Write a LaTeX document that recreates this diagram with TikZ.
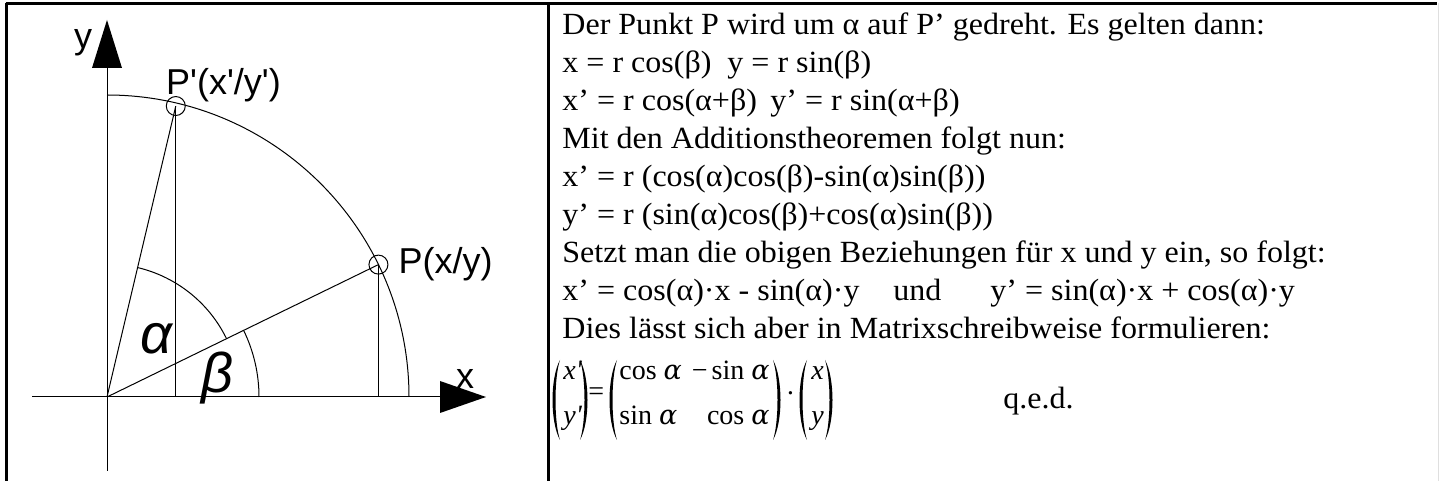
\documentclass[tikz,border=0pt]{standalone}
\usepackage{fontspec}
\setmainfont{Liberation Serif}
\newfontfamily\widefont{Liberation Serif}[FakeStretch=1.04]
\newfontfamily\cad{Liberation Sans}
\newfontfamily\dvs{DejaVu Serif}
\begin{document}
\begin{tikzpicture}[x=0.5pt,y=0.5pt,
  thinline/.style={line width=0.5pt},
  frameline/.style={line width=1.1pt},
  txt/.style={anchor=base west, inner sep=0pt, font=\widefont\fontsize{15.4}{18.5}\selectfont},
  mtx/.style={anchor=base west, inner sep=0pt, font=\fontsize{14}{17}\selectfont},
  mtxr/.style={mtx, anchor=base east},
  lbl/.style={inner sep=0pt, font=\cad\fontsize{18}{20}\selectfont},
  greek/.style={inner sep=0pt, font=\cad\itshape\fontsize{28}{30}\selectfont},
  ptmark/.style={circle, draw, line width=0.5pt, minimum size=9.5pt, inner sep=0pt},
  lpar/.pic={\fill (0,40) .. controls (-10,22) and (-10,-22) .. (0,-40)
                 .. controls (-6,-22) and (-6,22) .. (0,40) -- cycle;},
  rpar/.pic={\fill (0,40) .. controls (10,22) and (10,-22) .. (0,-40)
                 .. controls (6,-22) and (6,22) .. (0,40) -- cycle;}
]
\newcommand{\mal}{{\dvs\itshape\fontsize{13.5}{16}\selectfont α}}
\useasboundingbox (0,0) rectangle (1439,481);
% frame
\draw[frameline] (5.5,477.5) -- (1437,477.5);
\draw[frameline] (6.5,478) -- (6.5,0);
\draw[frameline] (548.5,478) -- (548.5,0);
\draw[gray!25, line width=0.5pt] (1438.5,478) -- (1438.5,0);
% axes
\coordinate (O) at (107,84);
\coordinate (xs) at (32,84);
\coordinate (xb) at (440,84);
\coordinate (xt) at (486,84);
\coordinate (yb) at (107,10);
\coordinate (ya) at (107,413);
\coordinate (yt) at (107,461);
\draw[thinline] (xs) -- (xb);
\fill ([yshift=8]xb) -- (xt) -- ([yshift=-8]xb) -- cycle;
\draw[thinline] (yb) -- (ya);
\fill ([xshift=-7.5]ya) -- (yt) -- ([xshift=7.5]ya) -- cycle;
% big arc
\draw[thinline] ([shift={(0:302)}]O) arc[start angle=0,end angle=90,radius=302];
% points
\node[ptmark] (P) at ([shift={(26:302)}]O) {};
\node[ptmark] (Pp) at ([shift={(76.7:299)}]O) {};
\draw[thinline] (O) -- (P.center);
\draw[thinline] (O) -- (Pp.center);
\draw[thinline] (P.center) -- (P.center |- O);
\draw[thinline] (Pp.center) -- (Pp.center |- O);
% angle arcs
\draw[thinline] ([shift={(26:133)}]O) arc[start angle=26,end angle=76.7,radius=133];
\draw[thinline] ([shift={(0:152)}]O) arc[start angle=0,end angle=26,radius=152];
% labels
\node[greek] (alpha) at (156,142) {α};
\node[greek] (beta) at (217,103) {β};
\node[lbl] (Pl) at (445.5,216.5) {P(x/y)};
\node[lbl] (Ppl) at (223.5,396) {P'(x'/y')};
\node[lbl] (yl) at (83,438) {y};
\node[lbl] (xl) at (465,102) {x};
% text
\node[txt] (l1) at (562,446) {Der Punkt P wird um α auf P’ gedreht. Es gelten dann:};
\node[txt] (l2a) at (562,408) {x = r cos(β)};
\node[txt] (l2b) at (727,408) {y = r sin(β)};
\node[txt] (l3a) at (562,370) {x’ = r cos(α+β)};
\node[txt] (l3b) at (770,370) {y’ = r sin(α+β)};
\node[txt] (l4) at (562,332) {Mit den Additionstheoremen folgt nun:};
\node[txt] (l5) at (562,294) {x’ = r (cos(α)cos(β)-sin(α)sin(β))};
\node[txt] (l6) at (562,256) {y’ = r (sin(α)cos(β)+cos(α)sin(β))};
\node[txt] (l7) at (562,218) {Setzt man die obigen Beziehungen für x und y ein, so folgt:};
\node[txt] (l8a) at (562,180) {x’ = cos(α)·x - sin(α)·y};
\node[txt] (l8b) at (893,180) {und};
\node[txt] (l8c) at (990,180) {y’ = sin(α)·x + cos(α)·y};
\node[txt] (l9) at (562,142) {Dies lässt sich aber in Matrixschreibweise formulieren:};
% matrix equation
\pic at (560,81) {lpar};
\pic at (580,81) {rpar};
\node[mtx] (vx1) at (563,101) {\itshape x\textquotesingle};
\node[mtx] (vy1) at (563,56) {\itshape y\textquotesingle};
\node[mtx] (eq) at (588,80) {=};
\pic at (617,81) {lpar};
\pic at (773,81) {rpar};
\node[mtx] (m11) at (619,101) {cos\hspace{3.5pt}\mal};
\node[mtx] (m21) at (619,56) {sin\hspace{3.5pt}\mal};
\node[mtxr] (m12) at (770,101) {−\hspace{2pt}sin\hspace{3.5pt}\mal};
\node[mtxr] (m22) at (770,56) {cos\hspace{3.5pt}\mal};
\node[mtx, anchor=center] (dot) at (790.5,84) {·};
\pic at (807,81) {lpar};
\pic at (825,81) {rpar};
\node[mtx] (vx2) at (811,101) {\itshape x};
\node[mtx] (vy2) at (811,56) {\itshape y};
\node[txt] (qed) at (1003,72) {q.e.d.};
\end{tikzpicture}
\end{document}
